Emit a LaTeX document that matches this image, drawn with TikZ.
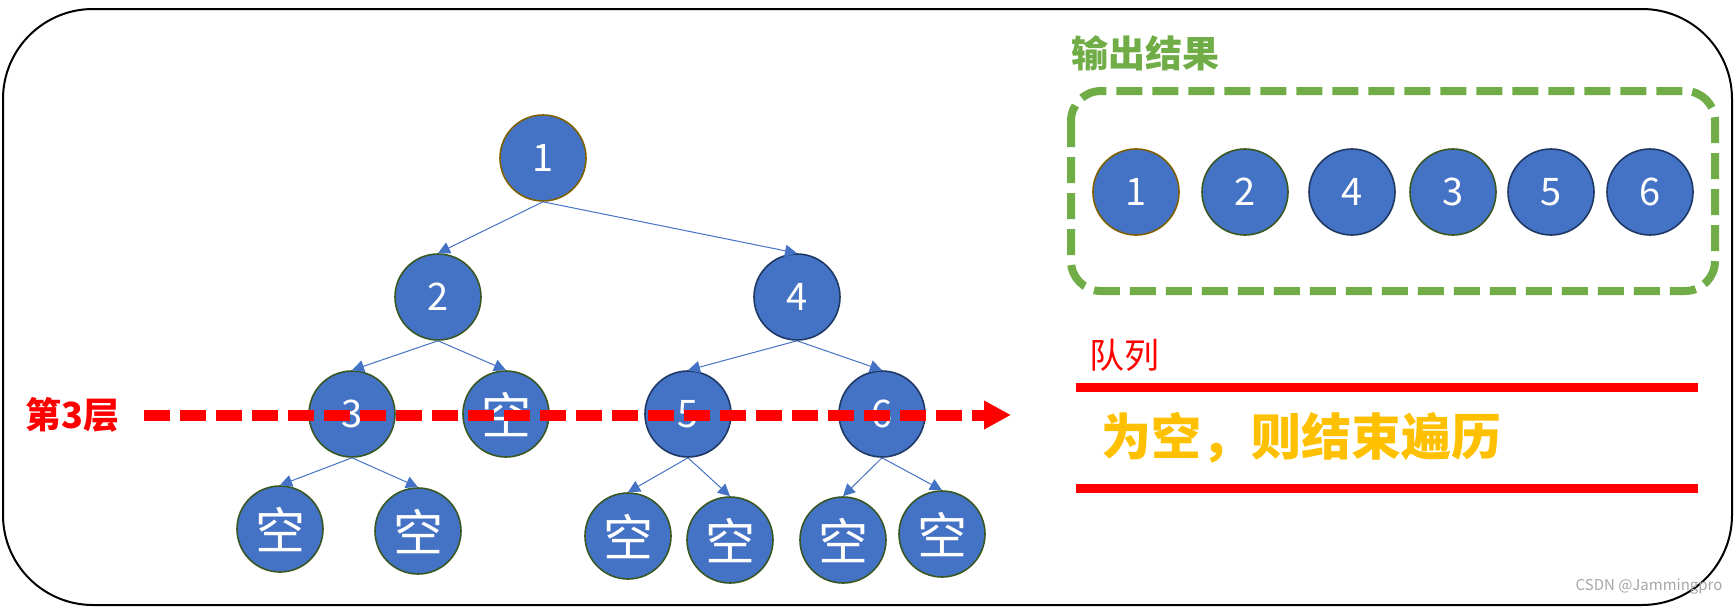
\documentclass[tikz,border=0pt]{standalone}
\usepackage{fontspec}
\setmainfont{Noto Sans CJK SC}
\usetikzlibrary{arrows.meta,positioning}
\definecolor{TreeBlue}{HTML}{4472C4}
\definecolor{RimBrown}{HTML}{7F6000}
\definecolor{RimGreen}{HTML}{385723}
\definecolor{RimNavy}{HTML}{203864}
\definecolor{OutGreen}{HTML}{70AD47}
\definecolor{QueueRed}{HTML}{FF0000}
\definecolor{EndGold}{HTML}{FFC000}
\definecolor{MarkGray}{HTML}{A6A6A6}

\begin{document}
\begin{tikzpicture}[x=1pt,y=-1pt,
  tnode/.style={circle,fill=TreeBlue,draw=#1,line width=1.6pt,minimum size=86pt,inner sep=0pt,
    text=white,font=\fontsize{38}{38}\selectfont},
  tnode/.default=RimGreen,
  enode/.style={tnode=RimGreen,font=\fontsize{50}{50}\selectfont},
  link/.style={TreeBlue,line width=1pt,-{Triangle[length=12pt,width=12pt]}}]
  \useasboundingbox (0,0) rectangle (1735,608);
  % outer frame
  \draw[line width=2pt,rounded corners=90pt] (3,9) rectangle (1732,605);

  % tree
  \node[tnode=RimBrown] (n1) at (543,158) {1};
  \node[tnode] (n2) at (438,297) {2};
  \node[tnode=RimNavy] (n4) at (797,297) {4};
  \node[tnode] (n3) at (352,414) {3};
  \node[enode] (e2) at (506,414) {空};
  \node[tnode=RimNavy] (n5) at (688,414) {5};
  \node[tnode=RimNavy] (n6) at (882,414) {6};
  \node[enode] (e3a) at (280,529) {空};
  \node[enode] (e3b) at (418,531) {空};
  \node[enode] (e5a) at (628,536) {空};
  \node[enode] (e5b) at (730,540) {空};
  \node[enode] (e6a) at (843,540) {空};
  \node[enode] (e6b) at (942,534) {空};
  \draw[link] (n1.south) -- (n2.north);
  \draw[link] (n1.south) -- (n4.north);
  \draw[link] (n2.south) -- (n3.north);
  \draw[link] (n2.south) -- (e2.north);
  \draw[link] (n4.south) -- (n5.north);
  \draw[link] (n4.south) -- (n6.north);
  \draw[link] (n3.south) -- (e3a.north);
  \draw[link] (n3.south) -- (e3b.north);
  \draw[link] (n5.south) -- (e5a.north);
  \draw[link] (n5.south) -- (e5b.north);
  \draw[link] (n6.south) -- (e6a.north);
  \draw[link] (n6.south) -- (e6b.north);

  % level 3 sweep
  \node[anchor=west,text=QueueRed,font=\fontsize{36}{36}\selectfont\bfseries] (lvl) at (22,415) {第3层};
  \coordinate (lvlstart) at (144,415);
  \coordinate (lvlend) at (1011,415);
  \draw[QueueRed,line width=11pt,dash pattern=on 26pt off 10pt,
    -{Triangle[length=27pt,width=27pt]}] (lvlstart) -- (lvlend);

  % output
  \node[anchor=west,text=OutGreen,font=\fontsize{37}{37}\selectfont\bfseries] (outlbl) at (1068,53) {输出结果};
  \draw[OutGreen,line width=8pt,dash pattern=on 26pt off 10pt,rounded corners=30pt] (1071,91) rectangle (1715,291);
  \foreach \x/\v/\c [count=\i] in {1136/1/RimBrown,1245/2/RimGreen,1352/4/RimNavy,1453/3/RimGreen,1551/5/RimNavy,1650/6/RimNavy}
    \node[tnode=\c] (o\i) at (\x,192) {\v};

  % queue
  \node[anchor=west,text=QueueRed,font=\fontsize{35}{35}\selectfont] (qlbl) at (1086,355) {队列};
  \fill[QueueRed] (1076,383) rectangle (1698,392);
  \fill[QueueRed] (1076,484) rectangle (1698,493);
  \node[anchor=west,text=EndGold,font=\fontsize{50}{50}\selectfont\bfseries] (done) at (1098,438) {为空，则结束遍历};

  \node[anchor=east,text=MarkGray,font=\fontsize{15}{15}\selectfont] (mark) at (1726,587) {CSDN @Jammingpro};
\end{tikzpicture}
\end{document}
